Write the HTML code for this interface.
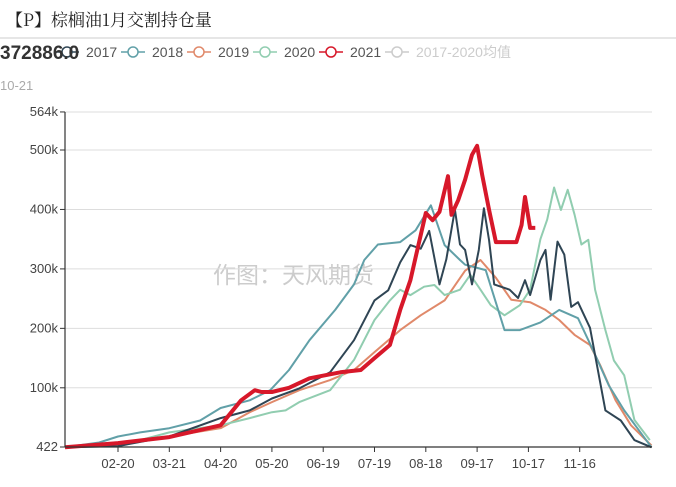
<!DOCTYPE html>
<html><head><meta charset="utf-8">
<style>
body{margin:0;background:#fff;width:676px;height:487px;overflow:hidden;font-family:"Liberation Sans","Noto Sans CJK SC",sans-serif;}
</style></head>
<body>
<svg id="chart" width="676" height="487" xmlns="http://www.w3.org/2000/svg" style="position:absolute;left:0;top:0">
<text x="6" y="26" font-size="17" fill="#222" font-family="'Noto Serif CJK SC','Noto Sans CJK SC',serif">【P】棕榈油1月交割持仓量</text>
<line x1="0" y1="38" x2="676" y2="38" stroke="#ccc" stroke-width="1"/>
<g id="legend"></g>
<text x="0" y="59" font-size="19" font-weight="bold" fill="#333">372886.0</text>
<text x="0" y="90" font-size="13" fill="#aaa">10-21</text>
<text x="213" y="283" font-size="23" fill="#ccc" font-family="'Noto Sans CJK SC',sans-serif">作图：天风期货</text>
<g id="grid"></g>
<g id="series"></g>
<g id="axes"></g>
</svg>
<script>
const yTicks=[422,100000,200000,300000,400000,500000,564000];
const yTickLabels=["422","100k","200k","300k","400k","500k","564k"];
const xTickDays=[31,61,91,121,151,181,211,241,271,301];
const xTickLabels=["02-20","03-21","04-20","05-20","06-19","07-19","08-18","09-17","10-17","11-16"];
const legendNames=["2017","2018","2019","2020","2021","2017-2020均值"];
const legendColors=["#2f4554","#61a0a8","#e0896a","#91cdb0","#d7182a","#ccc"];
// series: days since 01-20, values in thousands
const d2017=[0,31,61,91,108,121,137,155,169,181,189,196,202,208,213,219,223,228,231,234,238,242,245,248,251,260,265,269,272,278,281,284,288,292,296,300,307,316,325,333,343];
const v2017=[0,2,18,49,62,82,99,126,180,247,264,311,340,334,364,274,316,400,341,332,274,332,402,348,274,265,251,281,256,315,332,248,346,324,236,244,201,62,45,12,0];
const d2018=[0,20,31,44,61,79,91,108,120,131,143,158,169,175,183,196,205,214,222,231,234,246,257,266,278,289,300,309,318,327,343];
const v2018=[0,8,18,25,32,45,66,79,96,130,180,231,274,315,341,345,365,407,340,315,307,298,197,197,210,231,217,162,104,62,0];
const d2019=[0,31,61,91,108,121,137,155,169,181,196,208,222,234,243,252,261,272,281,289,298,307,313,322,331,343];
const v2019=[0,3,18,32,59,76,96,113,130,160,197,222,247,297,315,285,248,244,231,214,189,172,138,79,37,3];
const d2020=[0,31,61,91,108,121,129,137,155,169,181,190,196,202,210,216,222,231,237,243,249,257,266,272,278,282,286,290,294,298,302,306,310,316,321,327,333,342];
const v2020=[0,2,25,37,49,59,62,76,96,147,214,247,265,256,270,273,256,265,290,265,239,222,239,265,350,383,437,399,433,391,341,349,265,197,146,121,46,12];
const d2021=[0,31,61,91,103,111,115,121,131,143,161,173,181,190,196,202,206,211,215,219,224,226,230,234,238,241,244,248,252,256,264,267,269,272,275];
const v2021=[0,7,17,37,79,96,93,93,100,116,126,130,150,172,231,281,332,394,382,396,456,391,416,450,492,507,458,399,345,345,345,374,421,369,369];

const svg=document.getElementById('chart');
const NS='http://www.w3.org/2000/svg';
const X0=65,X1=652,Y0=447;
function xs(d){return X0+d*1.71;}
function ys(v){return Y0-(v-0.422)*0.5945;}
function el(tag,attrs,parent){const e=document.createElementNS(NS,tag);for(const k in attrs)e.setAttribute(k,attrs[k]);parent.appendChild(e);return e;}

const grid=document.getElementById('grid');
yTicks.forEach((t,i)=>{
  const y=ys(t/1000);
  if(i>0){const g=el('line',{x1:X0,x2:X1,y1:y,y2:y,stroke:'#ddd','stroke-width':1},grid);
  
  }
  const tk=el('line',{x1:X0-5,x2:X0,y1:y,y2:y,stroke:'#333'},grid);
  
  
  const tx=el('text',{x:X0-7,y:y+4,'text-anchor':'end','font-size':13,fill:'#444'},grid);
  tx.textContent=yTickLabels[i];
  
  
});
const axes=document.getElementById('axes');
const ya=el('line',{x1:X0,x2:X0,y1:ys(564),y2:Y0,stroke:'#333','stroke-width':1.2},axes);


const xa=el('line',{x1:X0,x2:X1,y1:Y0,y2:Y0,stroke:'#333','stroke-width':1.2},axes);


xTickDays.forEach((d,i)=>{
  const x=xs(d);
  const tk=el('line',{x1:x,x2:x,y1:Y0,y2:Y0+5,stroke:'#333'},axes);
  
  
  const tx=el('text',{x:x,y:Y0+21,'text-anchor':'middle','font-size':13,fill:'#444'},axes);
  tx.textContent=xTickLabels[i];
  
  
});

const seriesG=document.getElementById('series');
const all=[[d2019,v2019,2,'2019'],[d2020,v2020,2,'2020'],[d2018,v2018,2,'2018'],[d2017,v2017,2,'2017'],[d2021,v2021,4,'2021']];
all.forEach(s=>{
  const idx=legendNames.indexOf(s[3]);
  const pts=s[0].map((d,i)=>xs(d).toFixed(1)+','+ys(s[1][i]).toFixed(1)).join(' ');
  const p=el('polyline',{points:pts,fill:'none',stroke:legendColors[idx],'stroke-width':s[2],'stroke-linejoin':'round'},seriesG);
  
  
});

const lg=document.getElementById('legend');
legendNames.forEach((n,i)=>{
  const x=55+i*66;
  const g=el('g',{},lg);
  
  
  el('line',{x1:x,x2:x+24,y1:52,y2:52,stroke:legendColors[i],'stroke-width':1.5},g);
  el('circle',{cx:x+12,cy:52,r:5,fill:'#fff',stroke:legendColors[i],'stroke-width':1.5},g);
  const t=el('text',{x:x+31,y:57,'font-size':14,fill:i===5?'#ccc':'#555'},g);
  t.textContent=n;
});
</script>
</body></html>
